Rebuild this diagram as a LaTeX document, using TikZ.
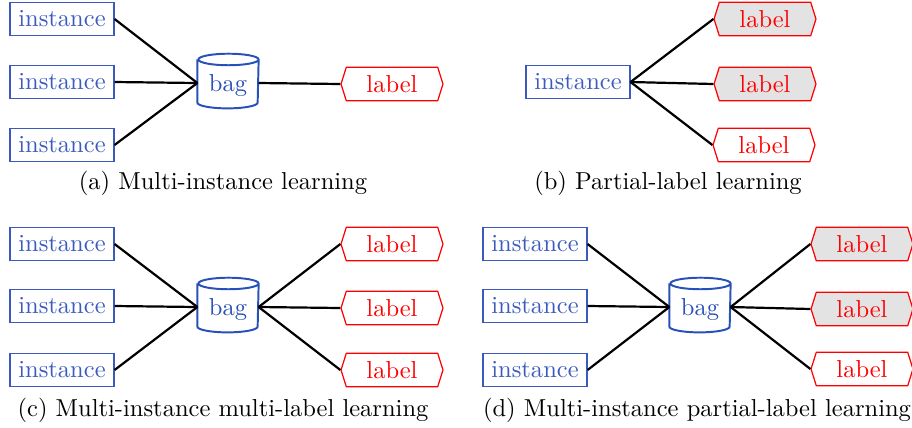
\documentclass[tikz,border=0pt]{standalone}
\usetikzlibrary{shapes.geometric,shapes.symbols}
\definecolor{instblue}{RGB}{58,90,190}
\definecolor{bagblue}{RGB}{40,80,185}
\begin{document}
\begin{tikzpicture}[x=0.408pt,y=-0.408pt,
 inst/.style={draw=instblue,text=instblue,line width=0.6pt},
 lab/.style={signal,signal to=east and west,draw=red,text=red,line width=0.5pt,minimum width=41.6pt,minimum height=13.3pt,signal pointer angle=145},
 labg/.style={lab,fill=gray!22},
 bagn/.style={rectangle,inner sep=0pt,text=bagblue,minimum width=24.6pt,minimum height=18pt},
 bagline/.style={draw=bagblue,line width=0.8pt},
 conn/.style={line width=0.9pt},
 captxt/.style={anchor=base}]
\newcommand{\bagoutline}[1]{%
  \draw[bagline] ([yshift=9.6pt]#1.west) -- ([yshift=-8pt]#1.west)
    arc[start angle=180,end angle=360,x radius=12.3pt,y radius=2.35pt]
    -- ([yshift=9.6pt]#1.east)
    arc[start angle=0,end angle=360,x radius=12.3pt,y radius=2.35pt];}
\newcommand{\bagword}{\raisebox{-0.9pt}[6.94pt][1.94pt]{bag}}
\useasboundingbox (0,0) rectangle (912,427);
% (a)
\node[inst] (a1) at (62,19) {instance};
\node[inst] (a2) at (62,82) {instance};
\node[inst] (a3) at (62,145) {instance};
\node[bagn] (ab) at (228,83) {\bagword};
\bagoutline{ab}
\node[lab] (al) at (392,84) {label};
\draw[conn] (a1.east) -- (ab.west);
\draw[conn] (a2.east) -- (ab.west);
\draw[conn] (a3.east) -- (ab.west);
\draw[conn] (ab.east) -- (al.west);
\node[captxt] (ca) at (223,189) {(a) Multi-instance learning};
% (b)
\node[inst] (b1) at (578,82) {instance};
\node[labg] (bl1) at (765,19) {label};
\node[labg] (bl2) at (765,84) {label};
\node[lab] (bl3) at (764,145) {label};
\draw[conn] (b1.east) -- (bl1.west);
\draw[conn] (b1.east) -- (bl2.west);
\draw[conn] (b1.east) -- (bl3.west);
\node[captxt] (cb) at (668,189) {(b) Partial-label learning};
% (c)
\node[inst] (c1) at (62,244) {instance};
\node[inst] (c2) at (62,306) {instance};
\node[inst] (c3) at (62,370) {instance};
\node[bagn] (cbag) at (228,307) {\bagword};
\bagoutline{cbag}
\node[lab] (cl1) at (392,244) {label};
\node[lab] (cl2) at (392,308) {label};
\node[lab] (cl3) at (392,370) {label};
\draw[conn] (c1.east) -- (cbag.west);
\draw[conn] (c2.east) -- (cbag.west);
\draw[conn] (c3.east) -- (cbag.west);
\draw[conn] (cbag.east) -- (cl1.west);
\draw[conn] (cbag.east) -- (cl2.west);
\draw[conn] (cbag.east) -- (cl3.west);
\node[captxt] (cc) at (223,416) {(c) Multi-instance multi-label learning};
% (d)
\node[inst] (d1) at (535,244) {instance};
\node[inst] (d2) at (535,306) {instance};
\node[inst] (d3) at (535,370) {instance};
\node[bagn] (dbag) at (700,307) {\bagword};
\bagoutline{dbag}
\node[labg] (dl1) at (862,244) {label};
\node[labg] (dl2) at (862,309) {label};
\node[lab] (dl3) at (862,369) {label};
\draw[conn] (d1.east) -- (dbag.west);
\draw[conn] (d2.east) -- (dbag.west);
\draw[conn] (d3.east) -- (dbag.west);
\draw[conn] (dbag.east) -- (dl1.west);
\draw[conn] (dbag.east) -- (dl2.west);
\draw[conn] (dbag.east) -- (dl3.west);
\node[captxt] (cd) at (697,416) {(d) Multi-instance partial-label learning};
\end{tikzpicture}
\end{document}
